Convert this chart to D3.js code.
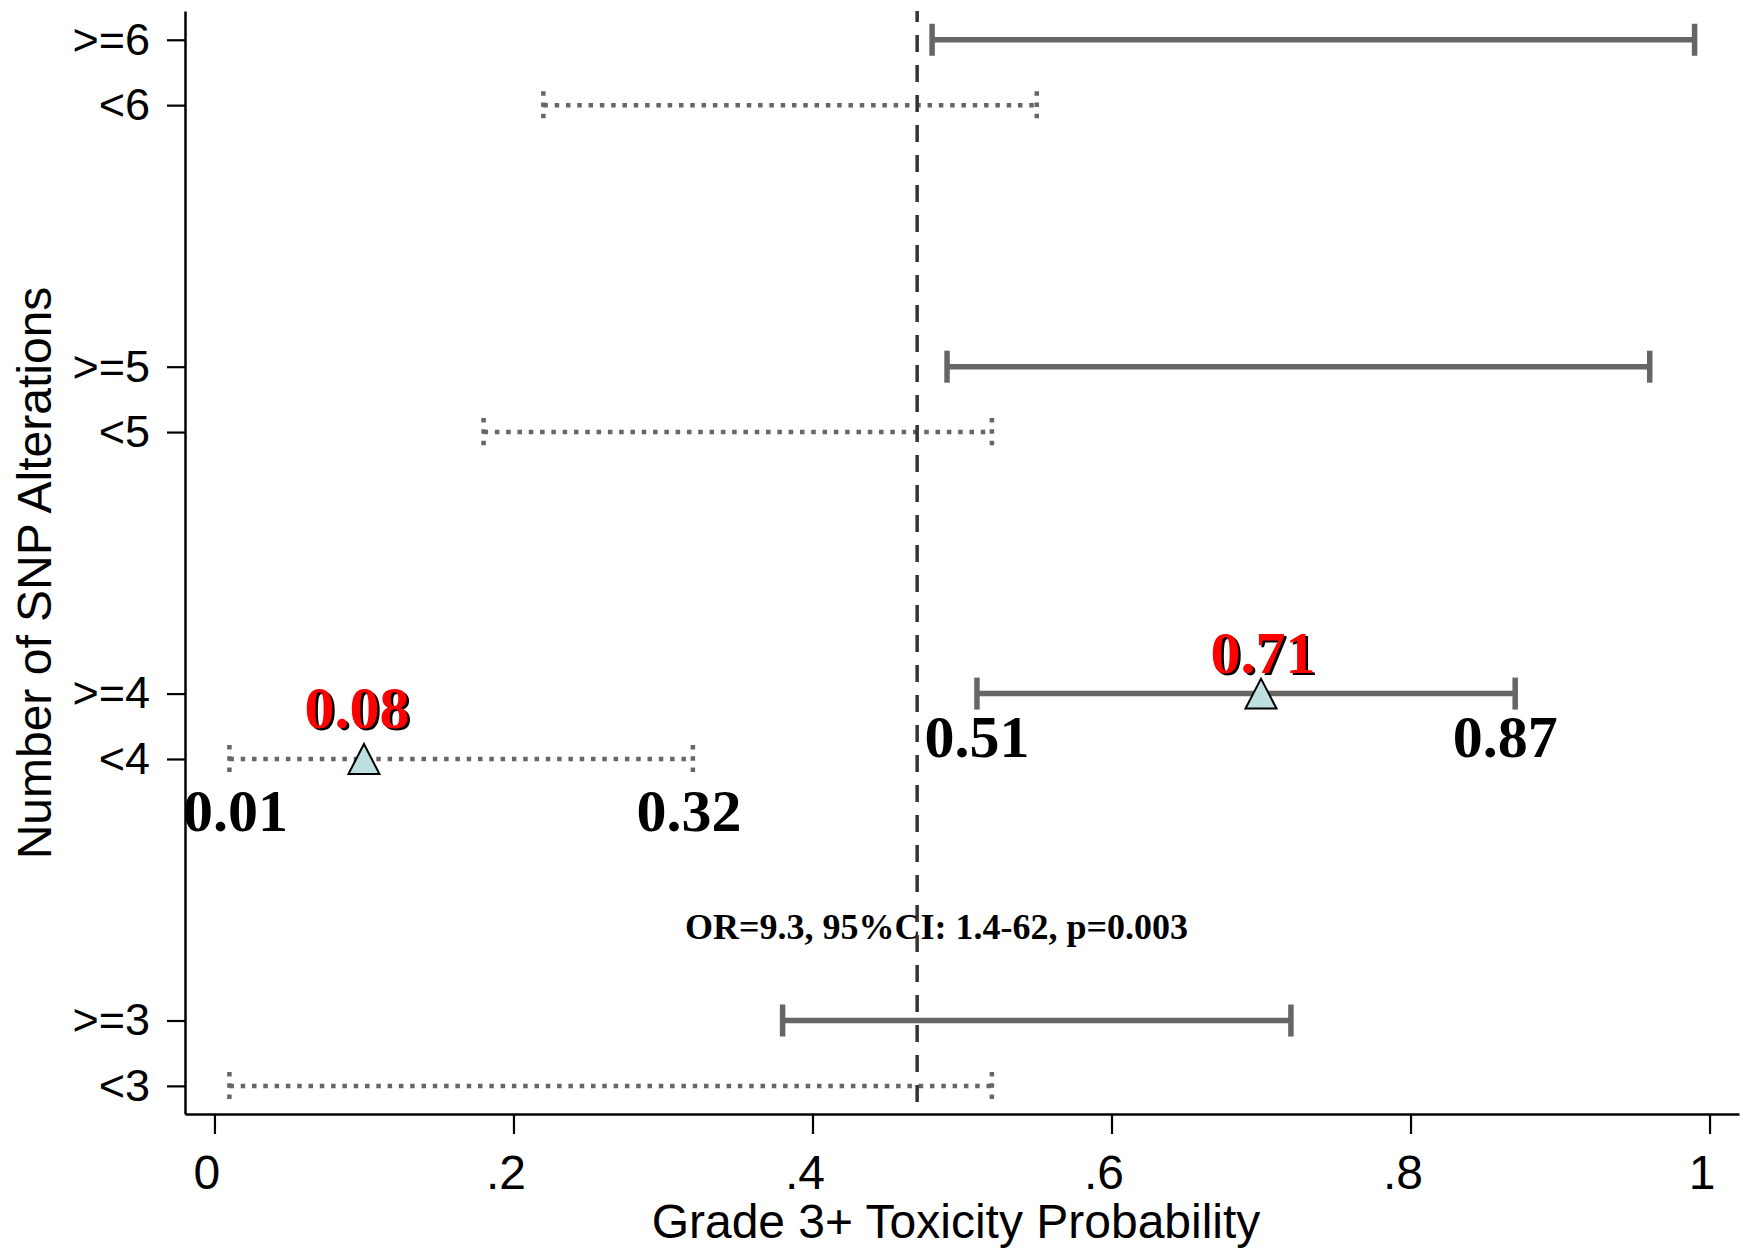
<!DOCTYPE html>
<html>
<head>
<meta charset="utf-8">
<script src="https://cdn.jsdelivr.net/npm/d3@7"></script>
<style>
  body { margin: 0; background: #fff; }
  text { font-family: "Liberation Sans", Arial, sans-serif; }
  .serif { font-family: "Liberation Serif", "Times New Roman", serif; font-weight: bold; }
</style>
</head>
<body>
<div id="plot"></div>
<script>
// SNP thresholds, two rows each (< and >=)
var thresholds = [3, 4, 5, 6];

// 95% CI for the "<" rows
var lowerLo = [0.01, 0.01, 0.18, 0.22];
var lowerHi = [0.52, 0.32, 0.52, 0.55];
// 95% CI for the ">=" rows
var upperLo = [0.38, 0.51, 0.49, 0.48];
var upperHi = [0.72, 0.87, 0.96, 0.99];

// point estimates shown only for the 4-SNP split
var estThreshold = 4;
var estLower = 0.10, estLowerLabel = "0.08";
var estUpper = 0.70, estUpperLabel = "0.71";

var refLine = 0.47;
var xTicks = [0, 0.2, 0.4, 0.6, 0.8, 1];
var xTickLabels = ["0", ".2", ".4", ".6", ".8", "1"];
var orText = "OR=9.3, 95%CI: 1.4-62, p=0.003";
var orPos = [0.483, 3.25];

var W = 1743, H = 1253;

var svg = d3.select("#plot").append("svg")
  .attr("width", W)
  .attr("height", H);

var x = d3.scaleLinear().domain([-0.0197, 1.0197]).range([185, 1739]);
var y = d3.scaleLinear().domain([0.57, 17.44]).range([1114, 11]);

// rows: "<k" at 5i+1, ">=k" at 5i+2
var rows = [];
thresholds.forEach(function(t, i) {
  rows.push({label: "<" + t, pos: 5 * i + 1, lo: lowerLo[i], hi: lowerHi[i], dotted: true, t: t});
  rows.push({label: ">=" + t, pos: 5 * i + 2, lo: upperLo[i], hi: upperHi[i], dotted: false, t: t});
});

// axes
var yAxis = svg.append("g")
  .attr("transform", "translate(185,0)")
  .call(d3.axisLeft(y)
    .tickValues(rows.map(function(d) { return d.pos; }))
    .tickFormat(function(v) { return rows.find(function(r) { return r.pos === v; }).label; })
    .tickSize(18).tickSizeOuter(0).tickPadding(17));
yAxis.select(".domain").attr("stroke", "#000").attr("stroke-width", 2.5);
yAxis.selectAll(".tick line").attr("stroke", "#000").attr("stroke-width", 2.2);
yAxis.selectAll(".tick text")
  .attr("font-size", 45)
  .attr("fill", "#000")
  .attr("font-family", "Liberation Sans, Arial, sans-serif");

var xAxis = svg.append("g")
  .attr("transform", "translate(0,1114)")
  .call(d3.axisBottom(x)
    .tickValues(xTicks)
    .tickFormat(function(d, i) { return xTickLabels[i]; })
    .tickSize(20).tickSizeOuter(0).tickPadding(21));
xAxis.select(".domain").attr("stroke", "#000").attr("stroke-width", 2.5);
xAxis.selectAll(".tick line").attr("stroke", "#000").attr("stroke-width", 2.2);
xAxis.selectAll(".tick text")
  .attr("font-size", 48)
  .attr("dx", -8)
  .attr("fill", "#000")
  .attr("font-family", "Liberation Sans, Arial, sans-serif");

svg.append("text")
  .attr("x", 956)
  .attr("y", 1238)
  .attr("text-anchor", "middle")
  .style("font-size", "48px")
  .text("Grade 3+ Toxicity Probability");

svg.append("text")
  .attr("transform", "translate(51,573) rotate(-90)")
  .attr("text-anchor", "middle")
  .style("font-size", "48px")
  .text("Number of SNP Alterations");

// CI bars
var bars = svg.append("g");
var grey = "#666666";

rows.forEach(function(d) {
  var g = bars.append("g");
  var yy = y(d.pos);
  if (d.dotted) {
    g.append("line")
      .attr("x1", x(d.lo)).attr("x2", x(d.hi))
      .attr("y1", yy).attr("y2", yy)
      .attr("stroke", grey).attr("stroke-width", 4.5)
      .attr("stroke-dasharray", "4.5,6.8");
    [d.lo, d.hi].forEach(function(v) {
      g.append("line")
        .attr("x1", x(v)).attr("x2", x(v))
        .attr("y1", yy - 14).attr("y2", yy + 14)
        .attr("stroke", grey).attr("stroke-width", 4.5)
        .attr("stroke-dasharray", "4.5,6.8");
    });
  } else {
    g.append("line")
      .attr("x1", x(d.lo)).attr("x2", x(d.hi))
      .attr("y1", yy).attr("y2", yy)
      .attr("stroke", grey).attr("stroke-width", 5.5);
    [d.lo, d.hi].forEach(function(v) {
      g.append("line")
        .attr("x1", x(v)).attr("x2", x(v))
        .attr("y1", yy - 16).attr("y2", yy + 16)
        .attr("stroke", grey).attr("stroke-width", 5.5);
    });
  }
});

// OR annotation
svg.append("text")
  .attr("class", "serif")
  .attr("x", x(orPos[0]))
  .attr("y", y(orPos[1]))
  .attr("text-anchor", "middle")
  .style("font-size", "36px")
  .text(orText);

// reference line
svg.append("line")
  .attr("x1", x(refLine)).attr("x2", x(refLine))
  .attr("y1", 11).attr("y2", 1114)
  .attr("stroke", "#333").attr("stroke-width", 3.5)
  .attr("stroke-dasharray", "17,13")
  .attr("stroke-dashoffset", 6);

// CI end labels for the 4-SNP split
var iEst = thresholds.indexOf(estThreshold);
var lowRow = rows[2 * iEst], highRow = rows[2 * iEst + 1];
var ciLabels = [
  {v: lowRow.lo, pos: lowRow.pos, dy: 72, dx: 6},
  {v: lowRow.hi, pos: lowRow.pos, dy: 72, dx: -4},
  {v: highRow.lo, pos: highRow.pos, dy: 63, dx: 0},
  {v: highRow.hi, pos: highRow.pos, dy: 63, dx: -10}
];
svg.selectAll(".cilab")
  .data(ciLabels)
  .enter()
  .append("text")
  .attr("class", "serif cilab")
  .attr("x", function(d) { return x(d.v) + d.dx; })
  .attr("y", function(d) { return y(d.pos) + d.dy; })
  .attr("text-anchor", "middle")
  .style("font-size", "60px")
  .attr("fill", "#000")
  .text(function(d) { return d3.format(".2f")(d.v); });

// point estimates
var ests = [
  {v: estLower, pos: lowRow.pos, label: estLowerLabel, dy: -31, dx: -7},
  {v: estUpper, pos: highRow.pos, label: estUpperLabel, dy: -21, dx: 2}
];

svg.selectAll(".tri")
  .data(ests)
  .enter()
  .append("path")
  .attr("class", "tri")
  .attr("transform", function(d) { return "translate(" + x(d.v) + "," + y(d.pos) + ")"; })
  .attr("d", "M0,-15L15.5,15L-15.5,15Z")
  .attr("fill", "#bfe0e1")
  .attr("stroke", "#000")
  .attr("stroke-width", 2);

// red labels with black drop shadow
var layers = [{name: "shadow", fill: "#000", off: 2.5}, {name: "face", fill: "#ff0000", off: 0}];
layers.forEach(function(s) {
  svg.selectAll(".est-" + s.name)
    .data(ests)
    .enter()
    .append("text")
    .attr("class", "serif est-" + s.name)
    .attr("x", function(d) { return x(d.v) + d.dx + s.off; })
    .attr("y", function(d) { return y(d.pos) + d.dy + s.off; })
    .attr("text-anchor", "middle")
    .style("font-size", "60px")
    .attr("fill", s.fill)
    .text(function(d) { return d.label; });
});
</script>
</body>
</html>
